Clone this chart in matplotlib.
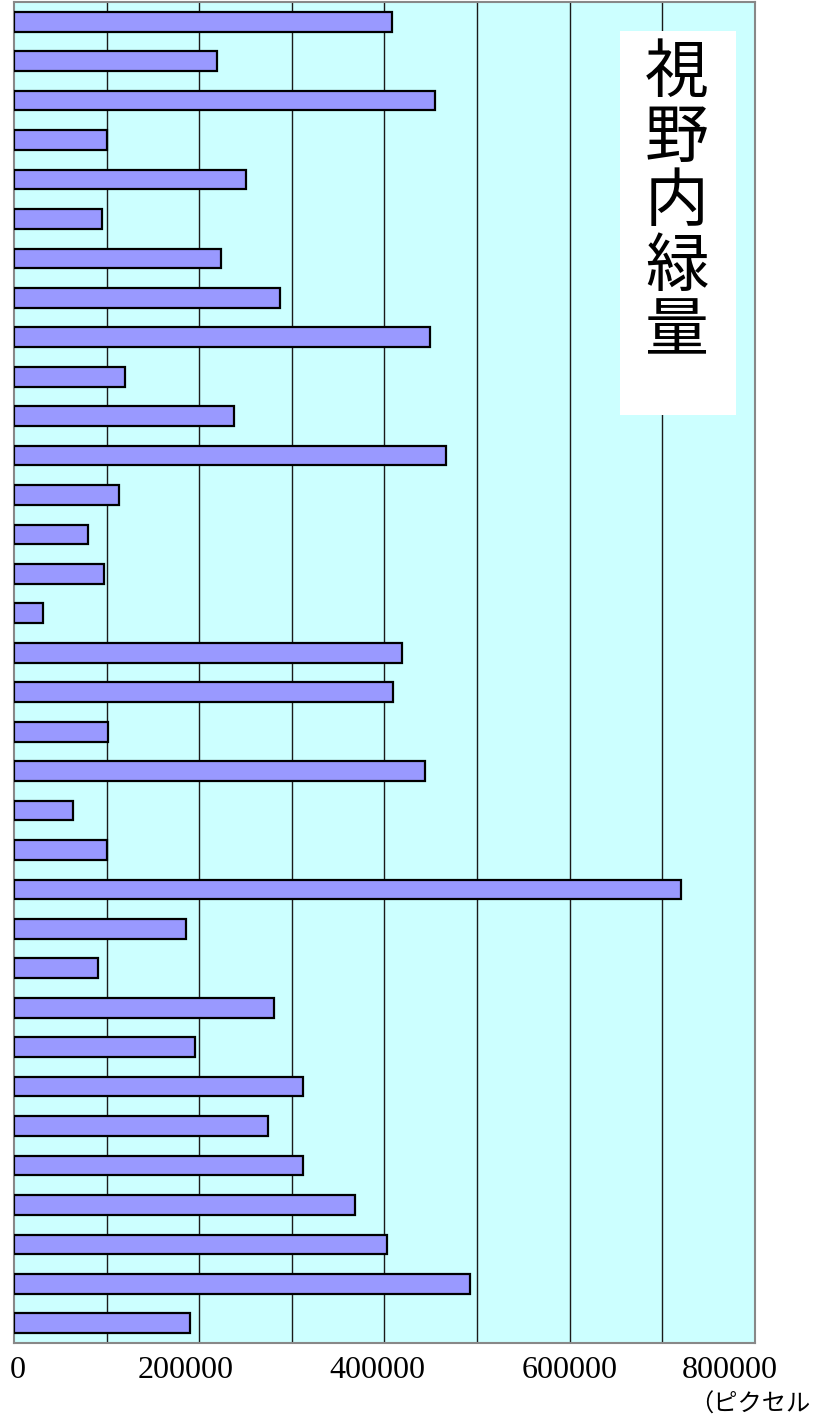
import matplotlib.pyplot as plt
from matplotlib.patches import Rectangle
from matplotlib.transforms import ScaledTranslation

# valeurs (de haut en bas)
green_px = [408000, 219700, 454700, 99900, 251000, 95500, 223000, 287700,
            449600, 119300, 237000, 466900, 113900, 80400, 97700, 31800,
            418700, 409400, 102000, 444200, 63200, 99900, 719700, 186200,
            91200, 280200, 195900, 311500, 273700, 311500, 368600, 403200,
            491800, 190500]
x_ticks = [0, 200000, 400000, 600000, 800000]
grid_x = [100000, 200000, 300000, 400000, 500000, 600000, 700000]
title_chars = ["視", "野", "内", "緑", "量"]
unit_label = "（ピクセル"

fig = plt.figure(figsize=(8.27, 14.18), dpi=100)
ax = fig.add_axes([14 / 827, 1 - 1343 / 1418, 741 / 827, 1341 / 1418])
ax.set_facecolor("#CCFFFF")

pos = list(range(len(green_px)))
ax.barh(pos, green_px, height=0.5, color="#9999FF", edgecolor="black",
        linewidth=1.6, zorder=3)

for gx in grid_x:
    ax.axvline(gx, color="#1a1a1a", linewidth=1.0, zorder=1)

ax.set_xlim(0, 800000)
ax.set_ylim(len(green_px) - 0.5, -0.5)
ax.set_yticks([])
ax.set_xticks(x_ticks)
ax.set_xticklabels([str(t) for t in x_ticks], fontfamily="Liberation Serif",
                   fontsize=23)
ax.tick_params(axis="x", length=0, pad=9)
# les etiquettes ne sont pas centrees pile sur les graduations
decalage_px = [3.5, -14, -7, -0.5, -25]
for lab, dx in zip(ax.get_xticklabels(), decalage_px):
    lab.set_transform(lab.get_transform() + ScaledTranslation(dx / 100, 0, fig.dpi_scale_trans))

for sp in ax.spines.values():
    sp.set_color("#888888")
    sp.set_linewidth(1.5)

# cadre blanc du titre
fig.patches.append(Rectangle((620 / 827, 1 - 415 / 1418), 116 / 827, 384 / 1418,
                             transform=fig.transFigure, facecolor="white",
                             edgecolor="none", zorder=5))
for i, ch in enumerate(title_chars):
    yc = 74 + i * 64.5
    fig.text(677 / 827, 1 - yc / 1418, ch, ha="center", va="center",
             fontsize=46, fontfamily="Noto Sans CJK JP", zorder=6)

fig.text(689 / 827, 1 - 1405 / 1418, unit_label, ha="left", va="center",
         fontsize=17.5, fontfamily="Noto Sans CJK JP")

fig.savefig("out.png", dpi=100)
